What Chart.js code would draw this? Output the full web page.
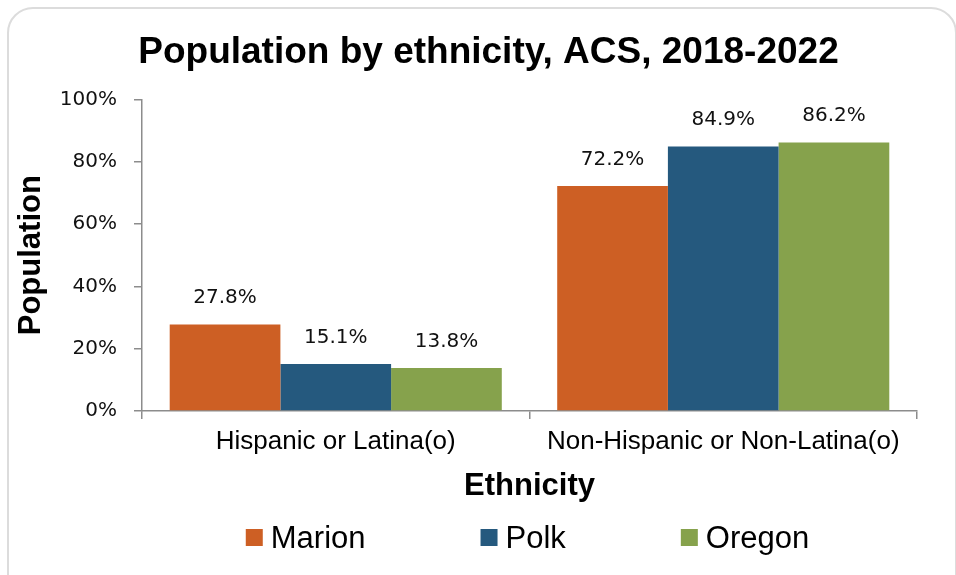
<!DOCTYPE html>
<html>
<head>
<meta charset="utf-8">
<script src="https://cdn.jsdelivr.net/npm/chart.js@4.4.0/dist/chart.umd.min.js"></script>
<style>
  body { margin: 0; background: #fff; }
  #frame {
    position: absolute; left: 7px; top: 7px;
    width: 946px; height: 590px;
    border: 2px solid #dcdcdc; border-radius: 26px;
  }
  #chart { position: absolute; left: 0; top: 0; }
</style>
</head>
<body>
<div id="frame"></div>
<canvas id="chart" width="956" height="575"></canvas>
<script>
var categories = ["Hispanic or Latina(o)", "Non-Hispanic or Non-Latina(o)"];
var seriesNames = ["Marion", "Polk", "Oregon"];
var marion = [27.8, 72.2];
var polk = [15.1, 84.9];
var oregon = [13.8, 86.2];
var yTicks = [0, 20, 40, 60, 80, 100];
var colors = ["#CD5F24", "#25597E", "#86A24C"];

Chart.defaults.font.family = "'Liberation Sans', Arial, sans-serif";
Chart.defaults.color = "#000";

var axisGray = "#8c8c8c";
var tickFont = "'DejaVu Sans', sans-serif";

// value labels above the bars
var barLabels = {
	id: 'barLabels',
	afterDatasetsDraw: function(chart){
		var ctx = chart.ctx;
		ctx.save();
		ctx.font = "20px " + tickFont;
		ctx.fillStyle = "#111";
		ctx.textAlign = "center";
		ctx.textBaseline = "alphabetic";
		chart.data.datasets.forEach(function(ds, i){
			var meta = chart.getDatasetMeta(i);
			meta.data.forEach(function(bar, j){
				ctx.fillText(ds.data[j].toFixed(1) + "%", bar.x, bar.y - 21);
			});
		});
		ctx.restore();
	}
};

// the original title sits a bit right of the canvas centre
var titleShift = {
	id: 'titleShift',
	afterLayout: function(chart){
		if (chart.titleBlock){
			chart.titleBlock.left += 25;
			chart.titleBlock.right += 25;
		}
	}
};

// legend drawn by hand so the spacing matches the original
var wideLegend = {
	id: 'wideLegend',
	afterDraw: function(chart){
		var ctx = chart.ctx;
		var area = chart.chartArea;
		var box = 17, gap = 8, spacing = 115;
		ctx.save();
		ctx.font = "31px 'Liberation Sans', Arial, sans-serif";
		ctx.textBaseline = "alphabetic";
		var widths = chart.data.datasets.map(function(ds){ return box + gap + ctx.measureText(ds.label).width; });
		var total = widths.reduce(function(a, b){ return a + b; }, 0) + spacing * (widths.length - 1);
		var x = (area.left + area.right) / 2 - 2 - total / 2;
		var base = area.bottom + 137;
		chart.data.datasets.forEach(function(ds, i){
			ctx.fillStyle = ds.backgroundColor;
			ctx.fillRect(x, base - 19, box, box);
			ctx.fillStyle = "#000";
			ctx.fillText(ds.label, x + box + gap, base);
			x += widths[i] + spacing;
		});
		ctx.restore();
	}
};

var ctx = document.getElementById("chart").getContext('2d');
var chart = new Chart(ctx, {
	type: 'bar',
	data: {
		labels: categories,
		datasets: [
			{ label: seriesNames[0], data: marion, backgroundColor: colors[0] },
			{ label: seriesNames[1], data: polk, backgroundColor: colors[1] },
			{ label: seriesNames[2], data: oregon, backgroundColor: colors[2] }
		]
	},
	options: {
		responsive: false,
		animation: false,
		categoryPercentage: 0.857,
		barPercentage: 1.0,
		layout: { padding: { left: 10, right: 39, top: 10, bottom: 64 } },
		plugins: {
			legend: { display: false },
			tooltip: { enabled: false },
			title: {
				display: true,
				text: "Population by ethnicity, ACS, 2018-2022",
				font: { size: 37, weight: 'bold' },
				color: "#000",
				padding: { top: 21, bottom: 24 }
			}
		},
		scales: {
			x: {
				afterFit: function(scale){ scale.height = 100; },
				grid: { drawOnChartArea: false, tickLength: 8, color: axisGray, lineWidth: 1.5 },
				border: { color: axisGray, width: 1.5 },
				ticks: { font: { size: 26 }, color: "#000", padding: 7 },
				title: {
					display: true,
					text: "Ethnicity",
					font: { size: 31, weight: 'bold' },
					color: "#000",
					padding: { top: 0, bottom: 6 }
				}
			},
			y: {
				min: 0,
				max: 100,
				afterFit: function(scale){ scale.width = 132; },
				afterBuildTicks: function(scale){
					scale.ticks = yTicks.map(function(v){ return { value: v }; });
				},
				grid: { drawOnChartArea: false, tickLength: 8, color: axisGray, lineWidth: 1.5 },
				border: { color: axisGray, width: 1.5 },
				ticks: {
					font: { size: 20, family: tickFont },
					color: "#111",
					padding: 17,
					callback: function(v){ return v + "%"; }
				},
				title: {
					display: true,
					text: "Population",
					font: { size: 31, weight: 'bold' },
					color: "#000",
					padding: { top: 3, bottom: 0 }
				}
			}
		}
	},
	plugins: [barLabels, titleShift, wideLegend]
});
</script>
</body>
</html>
